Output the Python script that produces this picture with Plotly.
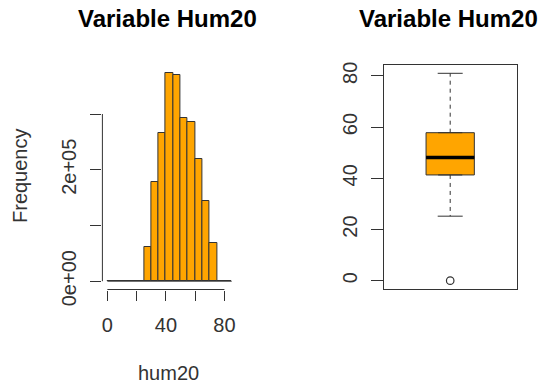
import plotly.graph_objects as go

# ---- data ----
bin_edges = [0, 5, 10, 15, 20, 25, 30, 35, 40, 45, 50, 55, 60, 65, 70, 75, 80, 85]
counts = [0, 0, 0, 0, 0, 62000, 178000, 266000, 373000, 370000, 292000, 286000,
          219000, 143000, 69000, 0, 0]
hist_yticks = [0, 100000, 200000, 300000]
hist_ytext = ["0e+00", "", "2e+05", ""]
hist_xticks = [0, 20, 40, 60, 80]
hist_xtext = ["0", "", "40", "", "80"]

box_q1 = 41.3
box_median = 48.1
box_q3 = 57.8
box_lower = 25.2
box_upper = 81.0
box_outliers = [0.0]
box_yticks = [0, 20, 40, 60, 80]

title_text = "Variable Hum20"
xlab = "hum20"
ylab = "Frequency"

# ---- style ----
W, H = 540, 385
FONT = "Liberation Sans, Arial, sans-serif"
TXT = "#333333"
LINE = "#333333"
ORANGE = "#FFA500"

def px_x(p):
    return p / W

def px_y(p):
    return 1 - p / H

centers = [(bin_edges[i] + bin_edges[i + 1]) / 2 for i in range(len(counts))]
widths = [bin_edges[i + 1] - bin_edges[i] for i in range(len(counts))]

fig = go.Figure()

# histogram bars
fig.add_trace(go.Bar(x=centers, y=counts, width=widths,
                     marker=dict(color=ORANGE, line=dict(color=LINE, width=1)),
                     xaxis="x", yaxis="y", showlegend=False, hoverinfo="skip"))
# baseline of empty bins
fig.add_trace(go.Scatter(x=[bin_edges[0], bin_edges[-1]], y=[0, 0], mode="lines",
                         line=dict(color=LINE, width=1), xaxis="x", yaxis="y",
                         showlegend=False, hoverinfo="skip"))

# box body
box_w = 0.363
cap_half = 0.094
fig.add_trace(go.Box(x=[0], q1=[box_q1], median=[box_median], q3=[box_q3],
                     lowerfence=[box_q1], upperfence=[box_q3], width=box_w,
                     fillcolor=ORANGE, line=dict(color=LINE, width=1),
                     xaxis="x2", yaxis="y2", showlegend=False, hoverinfo="skip",
                     boxpoints=False))
# median
fig.add_trace(go.Scatter(x=[-box_w / 2, box_w / 2], y=[box_median, box_median], mode="lines",
                         line=dict(color="black", width=3.5), xaxis="x2", yaxis="y2",
                         showlegend=False, hoverinfo="skip"))
# whiskers
for a, b in [(box_q3, box_upper), (box_q1, box_lower)]:
    fig.add_trace(go.Scatter(x=[0, 0], y=[a, b], mode="lines",
                             line=dict(color=LINE, width=1, dash="4px,4px"),
                             xaxis="x2", yaxis="y2", showlegend=False, hoverinfo="skip"))
    fig.add_trace(go.Scatter(x=[-cap_half, cap_half], y=[b, b], mode="lines",
                             line=dict(color=LINE, width=1),
                             xaxis="x2", yaxis="y2", showlegend=False, hoverinfo="skip"))
# outliers
fig.add_trace(go.Scatter(x=[0] * len(box_outliers), y=box_outliers, mode="markers",
                         marker=dict(symbol="circle-open", size=7.5, color=LINE,
                                     line=dict(width=1.2, color=LINE)),
                         xaxis="x2", yaxis="y2", showlegend=False, hoverinfo="skip"))

hmax = max(counts)
xr = bin_edges[-1] - bin_edges[0]
bmin = min(box_outliers + [box_lower])
brange = box_upper - bmin

tickfont = dict(family=FONT, size=20, color=TXT)

fig.update_layout(
    width=W, height=H, margin=dict(l=0, r=0, t=0, b=0, autoexpand=False),
    paper_bgcolor="white", plot_bgcolor="white",
    bargap=0,
    xaxis=dict(domain=[px_x(102.4), px_x(236.7)],
               range=[bin_edges[0] - 0.04 * xr, bin_edges[-1] + 0.04 * xr],
               tickvals=hist_xticks, ticktext=hist_xtext, ticks="outside", ticklen=10,
               tickcolor=LINE, tickfont=tickfont, showgrid=False, zeroline=False,
               showline=False, anchor="y", ticklabelstandoff=7, automargin=False),
    yaxis=dict(domain=[px_y(289.5), px_y(65)],
               range=[-0.04 * hmax, 1.04 * hmax],
               tickvals=hist_yticks, ticktext=hist_ytext, ticks="outside", ticklen=11,
               tickcolor=LINE, tickfont=tickfont, tickangle=-90, showgrid=False,
               zeroline=False, showline=False, anchor="x", ticklabelstandoff=6,
               automargin=False),
    xaxis2=dict(domain=[px_x(383.7), px_x(516.7)], range=[-0.5, 0.5],
                showticklabels=False, ticks="", showgrid=False, zeroline=False,
                showline=True, linecolor=LINE, linewidth=1, mirror=True, anchor="y2",
                automargin=False),
    yaxis2=dict(domain=[px_y(289), px_y(65)],
                range=[bmin - 0.04 * brange, box_upper + 0.04 * brange],
                tickvals=box_yticks, ticks="outside", ticklen=12, tickcolor=LINE,
                tickfont=tickfont, tickangle=-90, showgrid=False, zeroline=False,
                showline=True, linecolor=LINE, linewidth=1, mirror=True, anchor="x2",
                ticklabelstandoff=6, automargin=False),
    shapes=[
        dict(type="line", xref="x domain", yref="y", x0=0, x1=0,
             y0=min(hist_yticks), y1=max(hist_yticks), line=dict(color=LINE, width=1)),
        dict(type="line", xref="x", yref="y domain", x0=min(hist_xticks), x1=max(hist_xticks),
             y0=0, y1=0, line=dict(color=LINE, width=1)),
    ],
    annotations=[
        dict(text="<b>" + title_text + "</b>", xref="paper", yref="paper",
             x=px_x(167.5), y=px_y(18), xanchor="center", yanchor="middle",
             showarrow=False, font=dict(family=FONT, size=24, color="black")),
        dict(text="<b>" + title_text + "</b>", xref="paper", yref="paper",
             x=px_x(448.8), y=px_y(18), xanchor="center", yanchor="middle",
             showarrow=False, font=dict(family=FONT, size=24, color="black")),
        dict(text=ylab, xref="paper", yref="paper", x=px_x(20), y=px_y(176),
             xanchor="center", yanchor="middle", textangle=-90, showarrow=False,
             font=dict(family=FONT, size=20, color=TXT)),
        dict(text=xlab, xref="paper", yref="paper", x=px_x(168), y=px_y(373),
             xanchor="center", yanchor="middle", showarrow=False,
             font=dict(family=FONT, size=20, color=TXT)),
    ],
)

fig.write_html("out.html")
